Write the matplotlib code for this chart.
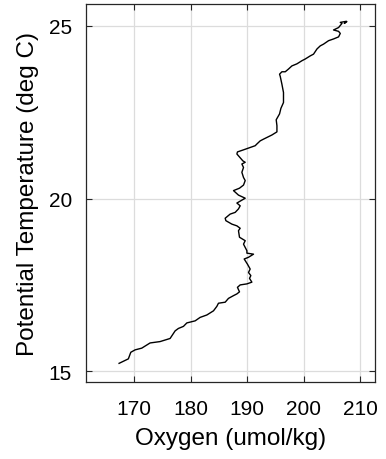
import matplotlib
matplotlib.use("Agg")
import matplotlib.pyplot as plt

# Perfil: oxigeno vs temperatura potencial
oxygen = [167.35, 168.99, 169.42, 170.18, 171.36, 172.83, 174.60, 176.37, 177.26, 177.84,
          178.73, 179.33, 180.80, 181.68, 182.87, 184.04, 184.64, 184.92, 186.11, 186.69,
          187.58, 188.18, 188.64, 188.28, 188.76, 189.95, 190.83, 190.41, 190.65, 190.23,
          190.53, 190.05, 189.47, 190.23, 191.12, 189.95, 189.95, 189.35, 189.65, 188.64,
          188.46, 188.76, 188.18, 187.29, 186.23, 186.11, 186.99, 187.88, 188.46, 188.76,
          188.18, 189.65, 188.46, 187.58, 188.64, 189.35, 189.65, 189.35, 189.06, 189.35,
          189.06, 189.65, 189.24, 188.18, 188.28, 189.35, 191.42, 191.72, 192.30, 192.89,
          194.37, 195.26, 195.26, 195.13, 195.72, 195.96, 196.42, 196.42, 196.14, 195.84,
          195.72, 196.14, 196.73, 197.31, 197.91, 198.80, 199.68, 200.27, 201.15, 201.73,
          202.34, 202.92, 203.50, 204.39, 205.27, 206.16, 206.46, 206.16, 205.27, 206.16,
          206.76, 206.46, 207.52, 207.17, 207.60]
theta = [15.23, 15.36, 15.55, 15.62, 15.67, 15.82, 15.86, 15.95, 16.17, 16.24,
         16.30, 16.40, 16.46, 16.56, 16.63, 16.75, 16.88, 16.97, 17.00, 17.11,
         17.19, 17.24, 17.30, 17.43, 17.50, 17.53, 17.58, 17.69, 17.77, 17.86,
         17.96, 18.10, 18.25, 18.30, 18.39, 18.42, 18.49, 18.68, 18.78, 18.88,
         19.07, 19.14, 19.21, 19.26, 19.36, 19.43, 19.55, 19.60, 19.70, 19.79,
         19.87, 20.01, 20.10, 20.23, 20.30, 20.39, 20.52, 20.61, 20.76, 20.90,
         21.00, 21.05, 21.09, 21.29, 21.35, 21.41, 21.53, 21.58, 21.67, 21.72,
         21.84, 21.93, 22.11, 22.28, 22.45, 22.61, 22.78, 23.07, 23.31, 23.54,
         23.60, 23.67, 23.67, 23.75, 23.84, 23.90, 23.99, 24.04, 24.13, 24.18,
         24.33, 24.42, 24.47, 24.57, 24.62, 24.68, 24.78, 24.84, 24.88, 24.95,
         25.07, 25.10, 25.13, 25.07, 25.12]

xticks = [170, 180, 190, 200, 210]
yticks = [15, 20, 25]

plt.rcParams['font.family'] = ['Liberation Sans', 'DejaVu Sans']

fig = plt.figure(figsize=(3.86, 4.6), dpi=100)
ax = fig.add_axes([0.2228, 0.1674, 0.7487, 0.8216])
ax.plot(oxygen, theta, color="black", linewidth=1.0)

ax.set_xlim(161.5, 212.6)
ax.set_ylim(14.69, 25.63)
ax.set_xticks(xticks)
ax.set_yticks(yticks)
ax.grid(True, color="#dcdcdc", linewidth=0.9)
ax.set_axisbelow(True)
ax.tick_params(direction="in", top=True, right=True, length=4, width=0.8,
               labelsize=15, color="#262626")
ax.tick_params(axis="x", pad=12)
ax.tick_params(axis="y", pad=10)
for s in ax.spines.values():
    s.set_linewidth(0.9)
    s.set_color("#262626")

ax.set_xlabel("Oxygen (umol/kg)", fontsize=17.5, labelpad=7)
ax.set_ylabel("Potential Temperature (deg C)", fontsize=17.5, labelpad=7)

fig.savefig("out.png", dpi=100)
